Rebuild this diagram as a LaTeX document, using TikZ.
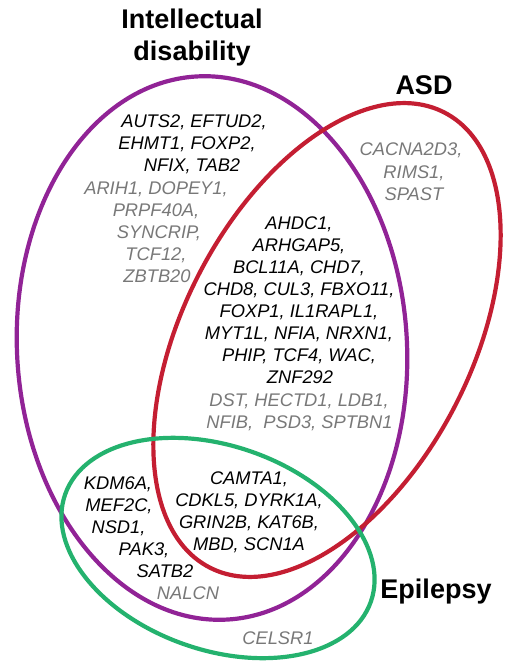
\documentclass[tikz,border=0pt]{standalone}
\usepackage{fontspec}
\setmainfont{Liberation Sans}
\definecolor{idpurple}{RGB}{145,35,150}
\definecolor{asdred}{RGB}{196,30,50}
\definecolor{epigreen}{RGB}{36,178,110}
\definecolor{genegray}{RGB}{120,120,120}
\begin{document}
\begin{tikzpicture}[x=1pt,y=-1pt,
  ring/.style={line width=4.2pt},
  gene/.style={font=\fontsize{18.3}{22}\selectfont\itshape, text=black, inner sep=0pt, anchor=base, align=center},
  ggene/.style={gene, text=genegray},
  title/.style={font=\fontsize{27}{33}\selectfont\bfseries, inner sep=0pt, anchor=base, align=center}]
\useasboundingbox (0,0) rectangle (506,661);
% ellipses
\draw[ring, idpurple] (212,348) ellipse[x radius=195, y radius=272, rotate=3.2];
\draw[ring, asdred] (327,340) ellipse[x radius=256, y radius=144, rotate=62.7];
\draw[ring, epigreen] (218,548) ellipse[x radius=162, y radius=102, rotate=-19.3];
% titles
\node[title] (tid1) at (192,28.5) {Intellectual};
\node[title] (tid2) at (192,61) {disability};
\node[title] (tasd) at (424,94) {ASD};
\node[title] (tepi) at (436,598) {Epilepsy};
% ID only
\node[gene] (id1) at (194,127.5) {AUTS2, EFTUD2,};
\node[gene] (id2) at (187,149.5) {EHMT1, FOXP2,};
\node[gene] (id3) at (192,171.5) {NFIX, TAB2};
\node[ggene] (id4) at (156,194) {ARIH1, DOPEY1,};
\node[ggene] (id5) at (156,216) {PRPF40A,};
\node[ggene] (id6) at (159,238) {SYNCRIP,};
\node[ggene] (id7) at (156,260) {TCF12,};
\node[ggene] (id8) at (157,282) {ZBTB20};
% ASD only
\node[ggene] (asd1) at (411,155.5) {CACNA2D3,};
\node[ggene] (asd2) at (414,178) {RIMS1,};
\node[ggene] (asd3) at (414,200) {SPAST};
% ID and ASD
\node[gene] (ia1) at (299,229.5) {AHDC1,};
\node[gene] (ia2) at (299,251.5) {ARHGAP5,};
\node[gene] (ia3) at (299,273.5) {BCL11A, CHD7,};
\node[gene] (ia4) at (299,295.5) {CHD8, CUL3, FBXO11,};
\node[gene] (ia5) at (299,317.5) {FOXP1, IL1RAPL1,};
\node[gene] (ia6) at (299,339.5) {MYT1L, NFIA, NRXN1,};
\node[gene] (ia7) at (299,361.5) {PHIP, TCF4, WAC,};
\node[gene] (ia8) at (300,383.5) {ZNF292};
\node[ggene] (ia9) at (299,406) {DST, HECTD1, LDB1,};
\node[ggene] (ia10) at (299.5,428) {NFIB,\ \ PSD3, SPTBN1};
% ID, ASD and epilepsy
\node[gene] (all1) at (249,484.5) {CAMTA1,};
\node[gene] (all2) at (249,506.5) {CDKL5, DYRK1A,};
\node[gene] (all3) at (249,528.5) {GRIN2B, KAT6B,};
\node[gene] (all4) at (249,550.5) {MBD, SCN1A};
% ID and epilepsy
\node[gene] (ie1) at (118,489.5) {KDM6A,};
\node[gene] (ie2) at (119,511.5) {MEF2C,};
\node[gene] (ie3) at (118.5,533.5) {NSD1,};
\node[gene] (ie4) at (144,555.5) {PAK3,};
\node[gene] (ie5) at (165,577.5) {SATB2};
\node[ggene] (ie6) at (188,599.5) {NALCN};
% epilepsy only
\node[ggene] (ep1) at (278,644.5) {CELSR1};
\end{tikzpicture}
\end{document}
